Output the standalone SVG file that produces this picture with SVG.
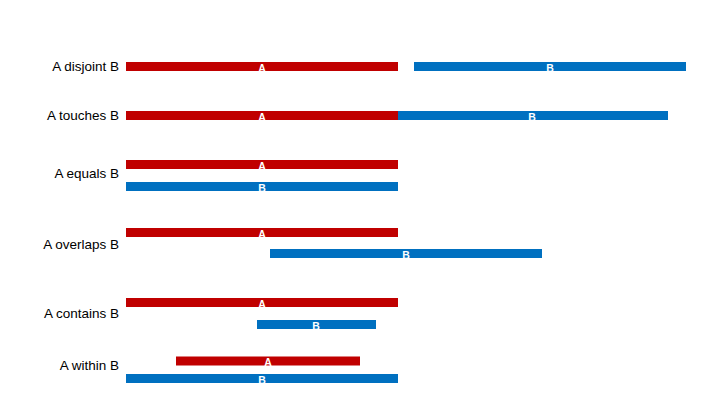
<svg xmlns="http://www.w3.org/2000/svg" width="720" height="405" viewBox="0 0 720 405">
<style>
.lbl{font-family:"Liberation Sans",Arial,sans-serif;font-size:13.5px;fill:#000;text-anchor:end}
.a{fill:#C00000}
.b{fill:#0070C0}
.t{font-family:"Liberation Sans",Arial,sans-serif;font-size:10.5px;font-weight:bold;fill:#fff;text-anchor:middle}
</style>
<rect width="720" height="405" fill="#fff"/>
<g id="disjoint">
<text class="lbl" x="119" y="71">A disjoint B</text>
<rect class="a" x="126" y="62" width="272" height="9"/>
<text class="t" x="262" y="71.5">A</text>
<rect class="b" x="414" y="62" width="272" height="9"/>
<text class="t" x="550" y="71.5">B</text>
</g>
<g id="touches">
<text class="lbl" x="119" y="120">A touches B</text>
<rect class="a" x="126" y="111" width="272" height="9"/>
<text class="t" x="262" y="120.5">A</text>
<rect class="b" x="398" y="111" width="270" height="9"/>
<text class="t" x="532" y="120.5">B</text>
</g>
<g id="equals">
<text class="lbl" x="119" y="178">A equals B</text>
<rect class="a" x="126" y="160" width="272" height="9"/>
<text class="t" x="262" y="169.5">A</text>
<rect class="b" x="126" y="182" width="272" height="9"/>
<text class="t" x="262" y="191.5">B</text>
</g>
<g id="overlaps">
<text class="lbl" x="119" y="249">A overlaps B</text>
<rect class="a" x="126" y="228" width="272" height="9"/>
<text class="t" x="262" y="237.5">A</text>
<rect class="b" x="270" y="249" width="272" height="9"/>
<text class="t" x="406" y="258.5">B</text>
</g>
<g id="contains">
<text class="lbl" x="119" y="318">A contains B</text>
<rect class="a" x="126" y="298" width="272" height="9"/>
<text class="t" x="262" y="307.5">A</text>
<rect class="b" x="257" y="320" width="119" height="9"/>
<text class="t" x="316" y="329.5">B</text>
</g>
<g id="within">
<text class="lbl" x="119" y="370">A within B</text>
<rect class="a" x="176" y="356.5" width="184" height="9"/>
<text class="t" x="268" y="366">A</text>
<rect class="b" x="126" y="374" width="272" height="9"/>
<text class="t" x="262" y="383.5">B</text>
</g>
<g id="connectors"></g>
</svg>
